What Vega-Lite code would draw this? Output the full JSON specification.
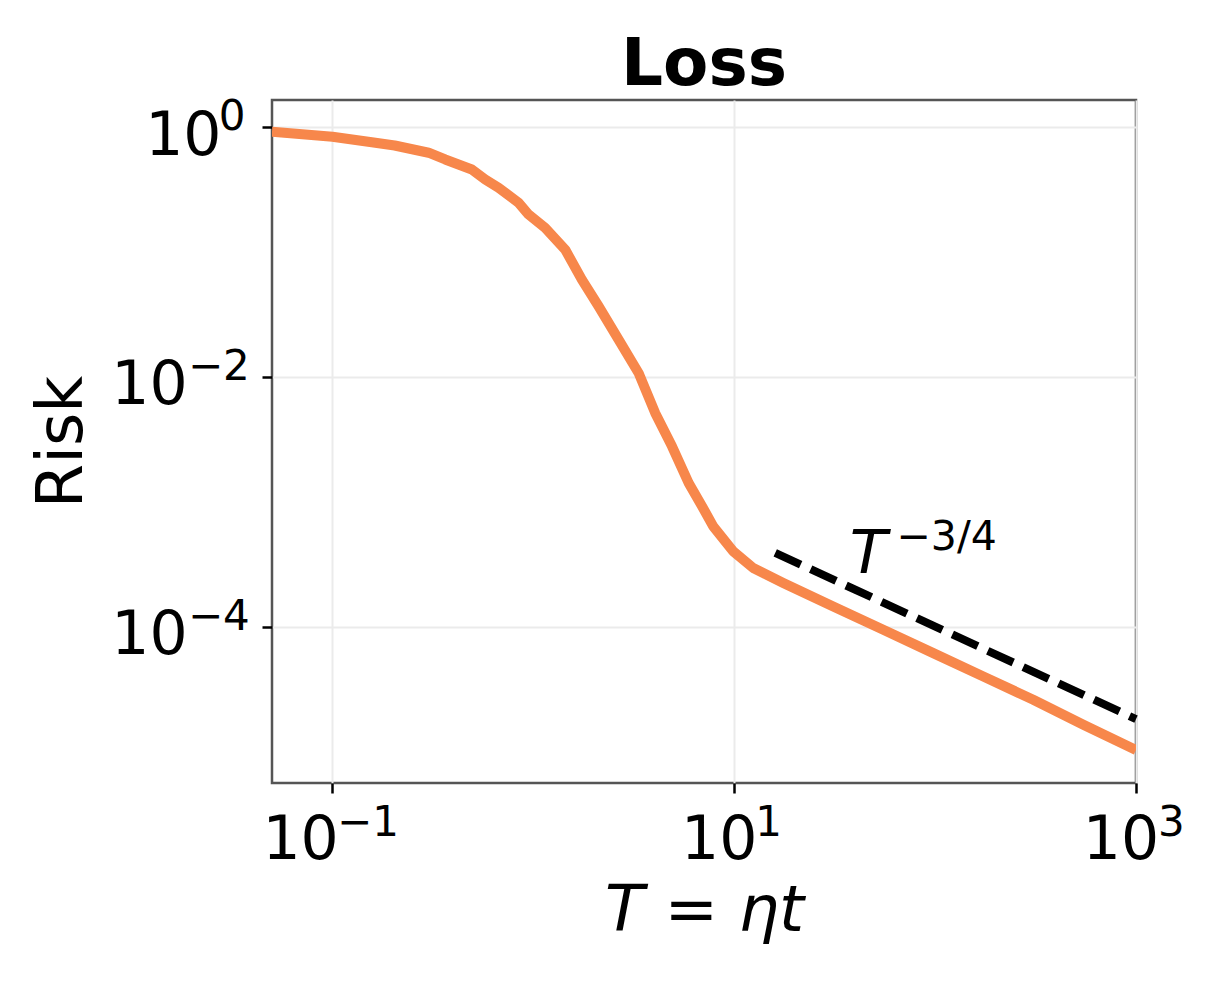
{
  "$schema": "https://vega.github.io/schema/vega-lite/v6.json",
  "autosize": {"type": "none"},
  "width": 864,
  "height": 683,
  "padding": {"left": 272, "top": 100, "right": 88, "bottom": 205},
  "background": "white",
  "title": {
    "text": "Loss",
    "font": "DejaVu Sans",
    "fontSize": 66,
    "fontWeight": "bold",
    "color": "black",
    "anchor": "middle",
    "offset": -3
  },
  "config": {
    "font": "DejaVu Sans",
    "view": {"stroke": "#555555", "strokeWidth": 2.5},
    "axis": {
      "grid": true,
      "gridColor": "#ebebeb",
      "gridWidth": 2,
      "domain": false,
      "ticks": true,
      "tickColor": "black",
      "tickSize": 10,
      "tickWidth": 2.5,
      "labels": false,
      "titleFont": "DejaVu Sans",
      "titleFontSize": 64,
      "titleFontWeight": "normal",
      "titleColor": "black"
    }
  },
  "datasets": {
    "risk": [
      {"T": 0.05, "risk": 0.918},
      {"T": 0.1, "risk": 0.838},
      {"T": 0.157, "risk": 0.758},
      {"T": 0.204, "risk": 0.713},
      {"T": 0.301, "risk": 0.624},
      {"T": 0.364, "risk": 0.551},
      {"T": 0.494, "risk": 0.458},
      {"T": 0.576, "risk": 0.381},
      {"T": 0.671, "risk": 0.327},
      {"T": 0.844, "risk": 0.248},
      {"T": 0.946, "risk": 0.2},
      {"T": 1.145, "risk": 0.156},
      {"T": 1.44, "risk": 0.1047},
      {"T": 1.744, "risk": 0.0602},
      {"T": 2.112, "risk": 0.0368},
      {"T": 2.657, "risk": 0.0199},
      {"T": 3.34, "risk": 0.01076},
      {"T": 4.04, "risk": 0.00515},
      {"T": 4.9, "risk": 0.00278},
      {"T": 5.93, "risk": 0.001415},
      {"T": 6.98, "risk": 0.000897},
      {"T": 7.86, "risk": 0.000635},
      {"T": 9.89, "risk": 0.000401},
      {"T": 12.43, "risk": 0.000295},
      {"T": 17.54, "risk": 0.000224},
      {"T": 31.1, "risk": 0.000145},
      {"T": 55.2, "risk": 0.0000945},
      {"T": 97.9, "risk": 0.0000614},
      {"T": 173.8, "risk": 0.0000399},
      {"T": 308, "risk": 0.000026},
      {"T": 547, "risk": 0.0000164},
      {"T": 1000, "risk": 0.0000103}
    ],
    "powerlaw": [
      {"T": 16, "risk": 0.00039},
      {"T": 1000, "risk": 0.0000182}
    ],
    "texts": [
      {"role": "tick-base", "T": 0.04481, "risk": 0.00000138, "text": "10"},
      {"role": "tick-exp", "T": 0.1053, "risk": 0.00000212, "text": "−1"},
      {"role": "tick-base", "T": 5.435, "risk": 0.00000138, "text": "10"},
      {"role": "tick-exp", "T": 12.74, "risk": 0.00000212, "text": "1"},
      {"role": "tick-base", "T": 543.5, "risk": 0.00000138, "text": "10"},
      {"role": "tick-exp", "T": 1288, "risk": 0.00000212, "text": "3"},
      {"role": "tick-base", "T": 0.01168, "risk": 0.593, "text": "10"},
      {"role": "tick-exp", "T": 0.02712, "risk": 0.946, "text": "0"},
      {"role": "tick-base", "T": 0.00793, "risk": 0.00611, "text": "10"},
      {"role": "tick-exp", "T": 0.01907, "risk": 0.009515, "text": "−2"},
      {"role": "tick-base", "T": 0.00793, "risk": 0.00006065, "text": "10"},
      {"role": "tick-exp", "T": 0.01907, "risk": 0.00009445, "text": "−4"},
      {"role": "note-base", "T": 37.6, "risk": 0.000269, "text": "T"},
      {"role": "note-exp", "T": 64.2, "risk": 0.000413, "text": "−3/4"}
    ]
  },
  "layer": [
    {
      "data": {"name": "risk"},
      "mark": {"type": "line", "color": "#f7874b", "strokeWidth": 10, "strokeJoin": "round", "clip": true},
      "encoding": {
        "x": {
          "field": "T",
          "type": "quantitative",
          "scale": {"type": "log", "domain": [0.05, 1000], "nice": false},
          "axis": {
            "title": "T = ηt",
            "titleFontStyle": "italic",
            "titlePadding": 85,
            "values": [0.1, 10, 1000]
          }
        },
        "y": {
          "field": "risk",
          "type": "quantitative",
          "scale": {"type": "log", "domain": [0.0000056, 1.65], "nice": false},
          "axis": {
            "title": "Risk",
            "titlePadding": 166,
            "values": [1, 0.01, 0.0001]
          }
        }
      }
    },
    {
      "data": {"name": "powerlaw"},
      "mark": {"type": "line", "color": "black", "strokeWidth": 8, "strokeDash": [28, 11], "strokeCap": "butt"},
      "encoding": {
        "x": {"field": "T", "type": "quantitative"},
        "y": {"field": "risk", "type": "quantitative"}
      }
    },
    {
      "data": {"name": "texts"},
      "transform": [{"filter": "datum.role == 'tick-base'"}],
      "mark": {"type": "text", "align": "left", "baseline": "alphabetic", "color": "black", "font": "DejaVu Sans", "fontSize": 60},
      "encoding": {
        "x": {"field": "T", "type": "quantitative"},
        "y": {"field": "risk", "type": "quantitative"},
        "text": {"field": "text"}
      }
    },
    {
      "data": {"name": "texts"},
      "transform": [{"filter": "datum.role == 'tick-exp'"}],
      "mark": {"type": "text", "align": "left", "baseline": "alphabetic", "color": "black", "font": "DejaVu Sans", "fontSize": 42},
      "encoding": {
        "x": {"field": "T", "type": "quantitative"},
        "y": {"field": "risk", "type": "quantitative"},
        "text": {"field": "text"}
      }
    },
    {
      "data": {"name": "texts"},
      "transform": [{"filter": "datum.role == 'note-base'"}],
      "mark": {"type": "text", "align": "left", "baseline": "alphabetic", "color": "black", "font": "DejaVu Sans", "fontSize": 61, "fontStyle": "italic"},
      "encoding": {
        "x": {"field": "T", "type": "quantitative"},
        "y": {"field": "risk", "type": "quantitative"},
        "text": {"field": "text"}
      }
    },
    {
      "data": {"name": "texts"},
      "transform": [{"filter": "datum.role == 'note-exp'"}],
      "mark": {"type": "text", "align": "left", "baseline": "alphabetic", "color": "black", "font": "DejaVu Sans", "fontSize": 41},
      "encoding": {
        "x": {"field": "T", "type": "quantitative"},
        "y": {"field": "risk", "type": "quantitative"},
        "text": {"field": "text"}
      }
    }
  ]
}
